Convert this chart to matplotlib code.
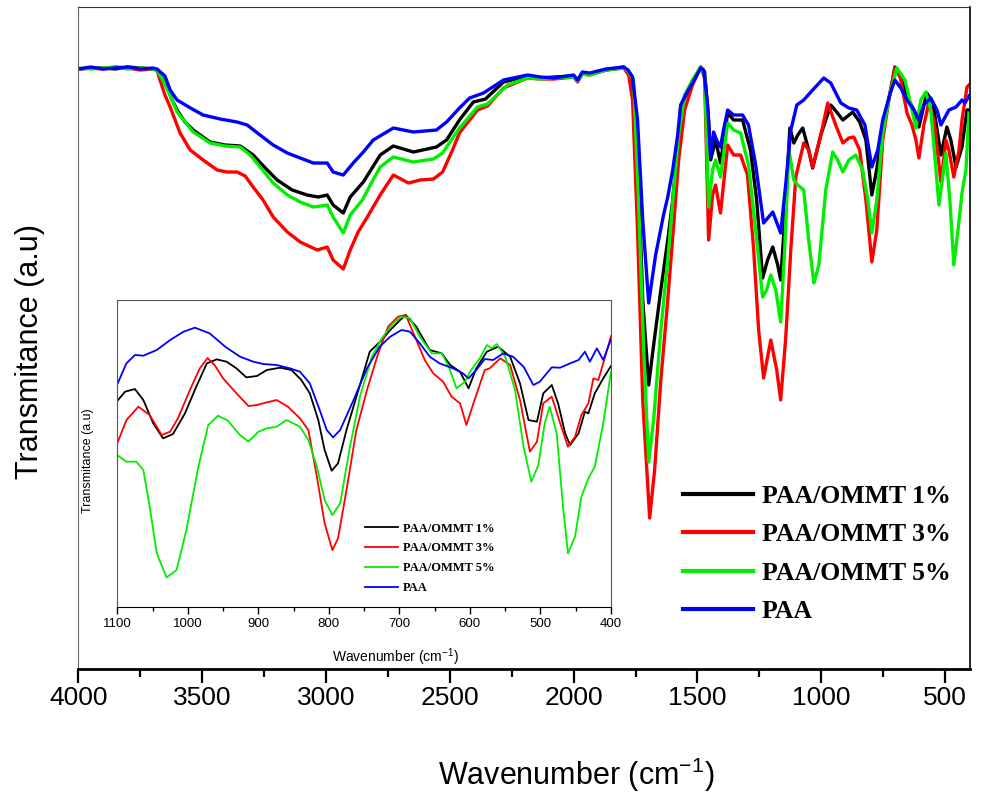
import matplotlib
matplotlib.use("Agg")
import matplotlib.pyplot as plt
from matplotlib.ticker import MultipleLocator

plt.rcParams['font.family'] = ['Liberation Sans', 'DejaVu Sans']
plt.rcParams['mathtext.default'] = 'regular'

labels = ['PAA/OMMT 1%', 'PAA/OMMT 3%', 'PAA/OMMT 5%', 'PAA']
colors = ['#000000', '#ff0000', '#00ee00', '#0000ff']

# ---- main spectrum (wavenumber, transmittance a.u.) ----
wn_1 = [4000, 3950, 3900, 3850, 3800, 3750, 3700, 3682, 3670, 3642, 3621, 3601, 3569, 3536, 3468, 3407, 3346,
        3294, 3245, 3197, 3136, 3076, 3031, 2995, 2971, 2930, 2902, 2849, 2781, 2728, 2647, 2554, 2513, 2461,
        2405, 2356, 2283, 2186, 2134, 2080, 2000, 1984, 1965, 1935, 1870, 1798, 1780, 1762, 1738, 1721, 1697,
        1677, 1648, 1620, 1600, 1580, 1556, 1528, 1487, 1471, 1455, 1447, 1427, 1407, 1378, 1354, 1318, 1286,
        1261, 1237, 1217, 1196, 1176, 1164, 1148, 1127, 1111, 1095, 1075, 1051, 1035, 1002, 962, 938, 913, 873,
        845, 820, 796, 776, 752, 724, 703, 679, 647, 626, 606, 574, 549, 517, 493, 477, 456, 432, 412, 404]
t_1 = [60.0, 60.1, 60.1, 60.0, 60.2, 60.1, 60.0, 59.9, 59.4, 58.2, 56.9, 55.9, 54.7, 53.9, 52.7, 52.4, 52.3,
       51.4, 50.1, 48.9, 47.9, 47.4, 47.2, 47.4, 46.4, 45.6, 47.2, 48.7, 51.4, 52.3, 51.7, 52.2, 52.9, 54.9,
       56.7, 57.0, 58.7, 59.3, 59.1, 59.2, 59.3, 58.8, 59.6, 59.5, 59.9, 60.2, 59.8, 58.9, 48.9, 36.9, 28.4,
       32.4, 37.9, 42.9, 46.9, 52.4, 56.9, 58.4, 60.2, 59.7, 54.9, 50.9, 52.9, 50.6, 55.6, 54.9, 54.9, 51.9,
       46.9, 39.1, 40.9, 42.2, 40.4, 38.9, 44.9, 54.1, 52.6, 53.4, 54.1, 51.9, 50.1, 53.4, 56.4, 55.7, 54.9, 55.7,
       54.7, 52.9, 47.4, 50.0, 54.2, 57.4, 60.2, 59.1, 56.9, 55.9, 54.2, 57.6, 56.6, 51.4, 54.2, 52.9, 50.2, 52.2,
       55.9, 55.9]

wn_3 = [4000, 3950, 3900, 3850, 3800, 3750, 3700, 3682, 3670, 3650, 3629, 3609, 3589, 3548, 3496, 3439, 3399,
        3359, 3326, 3294, 3254, 3213, 3156, 3104, 3035, 2995, 2971, 2930, 2902, 2870, 2833, 2781, 2728, 2667,
        2619, 2566, 2529, 2489, 2461, 2388, 2348, 2283, 2186, 2134, 2080, 2000, 1984, 1965, 1935, 1870, 1798,
        1778, 1762, 1742, 1721, 1693, 1673, 1648, 1620, 1596, 1576, 1552, 1520, 1487, 1471, 1455, 1439, 1427,
        1407, 1378, 1354, 1326, 1298, 1273, 1253, 1233, 1204, 1180, 1164, 1144, 1123, 1103, 1071, 1051, 1035,
        1002, 974, 942, 913, 889, 869, 845, 820, 796, 776, 752, 724, 703, 683, 654, 634, 618, 606, 586, 566, 545,
        517, 497, 485, 465, 444, 432, 412, 404]
t_3 = [60.0, 60.1, 60.0, 60.2, 60.1, 59.9, 60.0, 59.9, 58.9, 57.4, 56.2, 54.9, 53.6, 51.9, 50.9, 49.9, 49.7,
       49.7, 49.3, 48.2, 46.9, 45.2, 43.7, 42.7, 41.9, 42.2, 40.9, 40.0, 41.9, 43.7, 45.2, 47.4, 49.4, 48.6,
       48.9, 49.0, 49.7, 51.9, 53.6, 55.9, 56.3, 58.1, 59.1, 59.0, 59.0, 59.2, 58.7, 59.5, 59.4, 59.9, 60.1,
       59.4, 56.9, 43.9, 26.9, 15.1, 19.9, 28.9, 36.9, 44.4, 50.9, 55.9, 58.4, 60.2, 59.1, 42.9, 47.4, 48.4,
       45.6, 52.4, 51.4, 51.4, 49.4, 41.9, 33.9, 29.1, 32.9, 29.9, 26.9, 33.0, 42.0, 49.2, 52.6, 51.9, 50.2,
       53.4, 56.6, 54.4, 52.6, 53.1, 53.2, 51.9, 46.9, 40.7, 43.9, 52.9, 57.4, 60.1, 59.4, 55.6, 54.4, 52.9,
       51.1, 54.4, 56.6, 54.9, 48.7, 52.9, 51.9, 49.2, 51.9, 54.9, 58.2, 58.4]

wn_5 = [4000, 3950, 3900, 3850, 3800, 3750, 3700, 3682, 3670, 3642, 3601, 3536, 3468, 3407, 3346, 3306, 3266,
        3213, 3156, 3104, 3051, 2995, 2971, 2930, 2902, 2853, 2821, 2781, 2728, 2647, 2566, 2529, 2461, 2388,
        2348, 2267, 2186, 2134, 2080, 2000, 1984, 1965, 1935, 1870, 1798, 1780, 1758, 1738, 1717, 1697, 1677,
        1648, 1620, 1596, 1576, 1552, 1520, 1487, 1471, 1455, 1439, 1427, 1407, 1378, 1354, 1326, 1294, 1265,
        1237, 1221, 1204, 1184, 1164, 1148, 1131, 1111, 1095, 1071, 1051, 1030, 1010, 982, 954, 934, 913, 889,
        861, 833, 812, 796, 776, 752, 724, 695, 662, 634, 618, 598, 578, 558, 537, 525, 509, 497, 481, 465, 448,
        432, 416, 404]
t_5 = [60.1, 60.0, 60.1, 60.2, 60.0, 60.1, 60.0, 59.9, 59.4, 58.1, 55.7, 53.7, 52.6, 52.3, 52.2, 51.4, 50.2,
       48.6, 47.4, 46.7, 46.2, 46.4, 45.2, 43.6, 45.4, 46.9, 48.4, 50.2, 51.2, 50.7, 51.0, 51.6, 54.1, 56.2,
       56.5, 58.4, 59.1, 59.0, 59.1, 59.2, 58.8, 59.5, 59.4, 59.9, 60.1, 59.8, 58.9, 46.9, 31.9, 20.7, 24.9,
       33.9, 40.9, 47.9, 53.4, 57.4, 58.9, 60.2, 59.4, 46.2, 49.9, 50.9, 49.2, 54.6, 53.9, 53.6, 50.4, 43.9,
       37.2, 37.9, 39.4, 37.9, 34.7, 41.9, 51.9, 48.9, 48.4, 47.9, 42.9, 38.6, 40.4, 47.9, 51.7, 50.9, 49.7, 50.9,
       51.4, 49.9, 46.9, 43.6, 46.9, 53.6, 57.4, 60.1, 58.9, 55.9, 54.1, 56.9, 57.7, 55.9, 49.9, 46.4, 49.4,
       51.6, 46.9, 40.4, 43.9, 47.6, 49.9, 55.6]

wn_paa = [4000, 3950, 3900, 3850, 3800, 3750, 3700, 3682, 3650, 3629, 3601, 3547, 3496, 3427, 3359, 3318, 3266,
          3213, 3156, 3104, 3051, 2995, 2971, 2930, 2890, 2849, 2809, 2728, 2647, 2554, 2513, 2461, 2420, 2364,
          2283, 2186, 2134, 2080, 2000, 1984, 1965, 1935, 1870, 1798, 1780, 1762, 1742, 1721, 1697, 1669, 1637,
          1620, 1600, 1580, 1568, 1548, 1520, 1487, 1475, 1459, 1447, 1435, 1423, 1407, 1395, 1378, 1354, 1318,
          1294, 1265, 1233, 1196, 1164, 1144, 1123, 1099, 1071, 1035, 990, 962, 921, 889, 857, 824, 796, 772,
          752, 724, 703, 679, 654, 626, 606, 586, 558, 533, 517, 485, 456, 432, 420, 404]
t_paa = [60.0, 60.2, 60.0, 60.1, 60.2, 60.0, 60.1, 60.0, 59.3, 57.9, 56.9, 56.1, 55.4, 55.0, 54.7, 54.4, 53.4,
         52.4, 51.6, 51.1, 50.6, 50.6, 49.7, 49.4, 50.6, 51.7, 52.9, 54.1, 53.7, 53.9, 54.7, 56.1, 57.1, 57.6,
         58.9, 59.4, 59.2, 59.1, 59.4, 58.9, 59.7, 59.6, 60.0, 60.2, 59.9, 59.2, 54.9, 44.9, 36.6, 41.4, 45.4,
         47.2, 49.9, 53.4, 56.4, 57.4, 58.6, 60.1, 59.9, 56.4, 51.2, 53.7, 52.9, 52.2, 53.9, 55.9, 55.4, 55.4,
         54.4, 50.4, 44.6, 45.7, 43.6, 48.4, 53.9, 56.4, 56.9, 57.9, 59.1, 58.6, 56.6, 56.1, 55.9, 54.4, 50.2, 51.9,
         54.9, 57.4, 58.9, 58.1, 56.9, 55.9, 54.9, 56.4, 57.1, 55.9, 54.4, 55.9, 56.2, 56.9, 56.6, 57.3]

# ---- inset, 1100-400 cm-1 ----
iw_1 = [1100, 1089, 1075, 1063, 1049, 1035, 1021, 1004, 988, 973, 959, 945, 931, 917, 902, 888, 869, 853, 839,
        827, 815, 806, 796, 787, 775, 756, 742, 725, 713, 699, 691, 676, 657, 640, 628, 614, 602, 591, 576, 560,
        543, 529, 517, 505, 496, 484, 475, 465, 458, 446, 437, 432, 423, 411, 400]
it_1 = [61.7, 64.5, 65.3, 62.0, 55.0, 50.5, 51.8, 58.0, 66.0, 73.0, 74.2, 73.5, 71.5, 68.8, 69.2, 71.0, 71.7,
        71.0, 68.0, 64.0, 56.0, 47.0, 40.8, 43.0, 53.0, 66.5, 76.5, 80.0, 83.0, 86.0, 87.5, 84.0, 77.0, 76.0,
        72.5, 70.5, 65.5, 71.5, 76.5, 78.0, 75.0, 67.0, 56.0, 55.5, 64.0, 66.5, 61.0, 52.0, 48.5, 52.0, 58.5,
        58.0, 64.0, 68.5, 72.2]

iw_3 = [1100, 1087, 1070, 1054, 1037, 1025, 1014, 997, 983, 972, 962, 950, 931, 914, 902, 888, 874, 858, 841,
        829, 817, 806, 795, 787, 775, 761, 746, 730, 716, 702, 691, 678, 664, 652, 638, 626, 614, 605, 595, 579,
        572, 557, 543, 529, 515, 505, 496, 484, 472, 461, 451, 442, 432, 425, 418, 409, 400]
it_3 = [49.0, 56.0, 60.0, 57.5, 51.5, 52.5, 56.5, 65.0, 71.5, 74.6, 72.5, 68.5, 64.0, 60.2, 60.5, 61.3, 62.0,
        60.0, 56.5, 53.0, 39.0, 25.0, 17.0, 20.5, 35.0, 53.0, 65.0, 76.0, 84.0, 87.0, 87.5, 81.0, 74.0, 70.0,
        67.5, 63.0, 61.0, 54.5, 61.0, 71.0, 71.5, 74.5, 72.5, 62.0, 46.5, 49.5, 61.0, 63.0, 55.0, 48.0, 51.0,
        57.5, 61.0, 68.5, 68.0, 74.5, 81.2]

iw_5 = [1100, 1087, 1073, 1063, 1054, 1044, 1030, 1016, 1002, 985, 971, 957, 943, 926, 914, 900, 888, 874, 860,
        841, 829, 817, 806, 795, 784, 770, 756, 739, 725, 709, 697, 685, 671, 654, 640, 630, 619, 607, 600, 586,
        576, 569, 562, 550, 536, 524, 513, 503, 494, 487, 477, 468, 461, 451, 442, 432, 423, 411, 400]
it_5 = [45.5, 43.5, 43.5, 41.0, 30.0, 16.0, 8.8, 11.0, 23.0, 42.0, 54.5, 57.3, 55.8, 51.5, 49.5, 52.5, 53.5,
        54.0, 56.0, 54.0, 50.0, 42.0, 32.0, 27.5, 31.0, 48.0, 63.0, 75.0, 80.5, 85.0, 87.0, 86.5, 81.0, 76.0,
        76.0, 72.0, 65.5, 67.5, 70.5, 74.5, 78.5, 77.5, 78.8, 75.0, 65.0, 48.0, 37.5, 42.5, 55.0, 60.0, 52.0,
        30.0, 16.0, 21.0, 33.0, 38.5, 42.0, 55.0, 70.5]

iw_paa = [1100, 1087, 1075, 1063, 1044, 1025, 1006, 990, 969, 947, 926, 907, 893, 874, 855, 841, 827, 813, 803,
          794, 784, 765, 746, 728, 713, 697, 685, 671, 657, 643, 624, 610, 602, 591, 579, 567, 553, 539, 524, 510,
          501, 484, 472, 458, 446, 437, 430, 420, 411, 400]
it_paa = [66.7, 73.0, 75.5, 75.3, 77.0, 80.0, 82.5, 83.7, 82.0, 78.0, 75.0, 73.5, 72.8, 72.5, 71.5, 70.5, 67.0,
          59.0, 53.0, 50.8, 53.0, 62.0, 71.5, 78.0, 81.0, 83.0, 82.5, 79.0, 75.0, 73.0, 71.5, 70.0, 68.5, 71.0,
          74.3, 74.0, 76.0, 75.0, 72.0, 66.5, 67.5, 71.8, 71.7, 73.0, 74.0, 76.5, 73.5, 77.5, 74.0, 80.2]

main_series = [(wn_1, t_1), (wn_3, t_3), (wn_5, t_5), (wn_paa, t_paa)]
inset_series = [(iw_1, it_1), (iw_3, it_3), (iw_5, it_5), (iw_paa, it_paa)]

fig = plt.figure(figsize=(9.82, 7.96), dpi=100)
ax = fig.add_axes([0.0797, 0.1595, 0.908, 0.8317])

for (x, y), c, lab in zip(main_series, colors, labels):
    ax.plot(x, y, color=c, lw=2.4, label=lab, solid_joinstyle='round')

ax.set_xlim(4000, 400)
ax.set_ylim(0, 66.2)
ax.xaxis.set_major_locator(MultipleLocator(500))
ax.xaxis.set_minor_locator(MultipleLocator(250))
ax.set_xticks([4000, 3500, 3000, 2500, 2000, 1500, 1000, 500])
ax.set_yticks([])
ax.tick_params(axis='x', which='major', direction='out', length=10, width=1.6, labelsize=19, pad=2)
ax.tick_params(axis='x', which='minor', direction='out', length=6, width=1.6)
ax.spines['bottom'].set_linewidth(2)
ax.spines['left'].set_color('#666666')
ax.spines['top'].set_color('#333333')
ax.spines['right'].set_linewidth(1.2)

ax.set_xlabel('Wavenumber (cm$^{-1}$)', fontsize=22, va='center')
ax.xaxis.set_label_coords(0.559, -0.160)
ax.set_ylabel('Transmitance (a.u)', fontsize=22, va='center')
ax.yaxis.set_label_coords(-0.054, 0.479)

leg = ax.legend(loc='upper left', bbox_to_anchor=(0.6955, 0.3907), bbox_transform=fig.transFigure,
                frameon=False, borderpad=0, borderaxespad=0, handlelength=2.72, handletextpad=0.35,
                labelspacing=0.6, prop={'family': 'Liberation Serif', 'weight': 'bold', 'size': 18.5})
for h in leg.get_lines():
    h.set_linewidth(3)

# inset
axi = fig.add_axes([0.1194, 0.2378, 0.5028, 0.3853])
for (x, y), c, lab in zip(inset_series, colors, labels):
    axi.plot(x, y, color=c, lw=1.3, label=lab)
axi.set_xlim(1100, 400)
axi.set_ylim(0, 92)
axi.xaxis.set_major_locator(MultipleLocator(100))
axi.xaxis.set_minor_locator(MultipleLocator(50))
axi.set_yticks([])
axi.tick_params(axis='x', which='major', direction='out', length=5, width=1, labelsize=9.5, pad=3)
axi.tick_params(axis='x', which='minor', direction='out', length=3, width=1)
for s in axi.spines.values():
    s.set_color('#555555')
axi.spines['bottom'].set_color('#000000')
axi.set_xlabel('Wavenumber (cm$^{-1}$)', fontsize=10, va='center')
axi.xaxis.set_label_coords(0.5625, -0.164)
axi.set_ylabel('Transmitance (a.u)', fontsize=9, va='center')
axi.yaxis.set_label_coords(-0.059, 0.475)
axi.legend(loc='upper left', bbox_to_anchor=(0.3717, 0.3435), bbox_transform=fig.transFigure,
           frameon=False, borderpad=0, borderaxespad=0, handlelength=2.6, handletextpad=0.45,
           labelspacing=0.63, prop={'family': 'Liberation Serif', 'weight': 'bold', 'size': 9})

fig.savefig('out.png', dpi=100)
